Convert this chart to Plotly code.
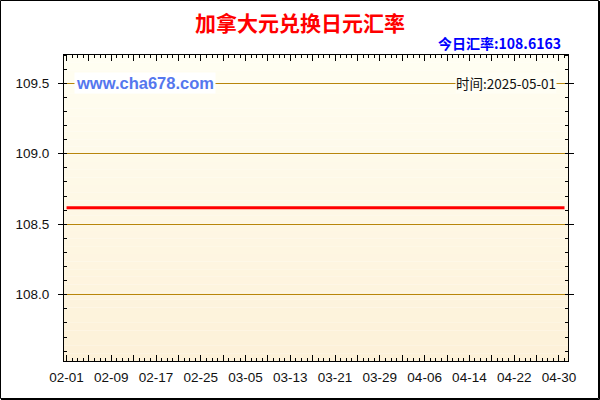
#!/usr/bin/env python
'''CAD to JPY exchange rate, last three months.'''

import pandas as pd
import plotly.graph_objects as go

# data: the rate is flat over the whole period
dates = ['2025-02-01', '2025-05-01']
rates = [108.6163, 108.6163]
today_rate = 108.6163
today = '2025-05-01'
tick_labels = ['02-01', '02-09', '02-17', '02-25', '03-05', '03-13',
               '03-21', '03-29', '04-06', '04-14', '04-22', '04-30']
y_ticks = [108.0, 108.5, 109.0, 109.5]

W, H = 600, 400
ML, MR, MT, MB = 64, 32, 55, 39
PW, PH = W - ML - MR, H - MT - MB

# major ticks every 4 days, a label on every other one
tickvals = pd.date_range('2025-02-01', '2025-04-30', freq='4D')
ticktext = [tick_labels[i // 2] if i % 2 == 0 else '' for i in range(len(tickvals))]

fig = go.Figure()
fig.add_trace(go.Scatter(
    x=dates, y=rates, mode='lines',
    line=dict(color='#FF0000', width=3),
    hoverinfo='skip', showlegend=False,
))

# pale yellow gradient behind the plot
shapes = []
n = 40
top, bottom = (255, 254, 242), (253, 241, 216)
for i in range(n):
    t = (i + 0.5) / n
    c = tuple(round(top[k] + (bottom[k] - top[k]) * t) for k in range(3))
    shapes.append(dict(
        type='rect', xref='paper', yref='paper', layer='below',
        x0=0, x1=1, y0=1 - (i + 1) / n, y1=1 - i / n,
        fillcolor='rgb(%d,%d,%d)' % c, line=dict(width=0),
    ))
# frame round the whole picture
shapes.append(dict(
    type='rect', xref='paper', yref='paper',
    x0=(0.5 - ML) / PW, x1=(W - 1.5 - ML) / PW,
    y0=-(H - 1.5 - MT - PH) / PH, y1=1 + (MT - 0.5) / PH,
    line=dict(color='black', width=1),
))
shapes.append(dict(
    type='line', xref='paper', yref='paper',
    x0=(W - 0.5 - ML) / PW, x1=(W - 0.5 - ML) / PW,
    y0=-(MB - 0.5) / PH, y1=1 + (MT - 1) / PH,
    line=dict(color='black', width=1),
))
shapes.append(dict(
    type='line', xref='paper', yref='paper',
    x0=(1 - ML) / PW, x1=(W - 0.5 - ML) / PW,
    y0=-(MB - 0.5) / PH, y1=-(MB - 0.5) / PH,
    line=dict(color='black', width=1),
))

fig.update_layout(
    width=W, height=H,
    margin=dict(l=ML, r=MR, t=MT, b=MB),
    paper_bgcolor='white', plot_bgcolor='rgba(0,0,0,0)',
    font=dict(family='Liberation Sans, Arial', size=13.5, color='#111'),
    shapes=shapes,
    title=dict(
        text='<b>加拿大元兑换日元汇率</b>',
        font=dict(family='Noto Sans CJK SC', size=21, color='#FF0000'),
        x=0.5, xanchor='center', y=1 - 24 / H, yanchor='middle',
    ),
    xaxis=dict(
        type='date',
        range=[pd.Timestamp('2025-02-01') - pd.Timedelta(hours=11),
               pd.Timestamp('2025-05-01') + pd.Timedelta(hours=15)],
        tickvals=tickvals, ticktext=ticktext,
        ticks='inside', ticklen=6, tickcolor='black',
        minor=dict(dtick=86400000, ticks='inside', ticklen=3, tickcolor='black'),
        showline=True, linecolor='black', linewidth=1, mirror='ticks',
        showgrid=False, zeroline=False, ticklabelstandoff=4,
    ),
    yaxis=dict(
        range=[107.53, 109.70],
        tickvals=y_ticks, tickformat='.1f',
        ticks='outside', ticklen=5, tickcolor='black',
        minor=dict(dtick=0.1, ticks='inside', ticklen=3, tickcolor='black'),
        showline=True, linecolor='black', linewidth=1, mirror='ticks',
        showgrid=True, gridcolor='#B8860B', gridwidth=1,
        zeroline=False, ticklabelstandoff=6,
    ),
    annotations=[
        dict(text='<b>今日汇率:%.4f</b>' % today_rate,
             xref='paper', yref='paper', x=(563 - ML) / PW, y=1 + 12 / PH,
             xanchor='right', yanchor='middle', showarrow=False,
             font=dict(family='Noto Sans CJK SC', size=14, color='#0000FF')),
        dict(text='<b>www.cha678.com</b>',
             xref='paper', yref='y', x=(74 - ML) / PW, y=109.5,
             xanchor='left', yanchor='middle', showarrow=False,
             bgcolor='white', borderpad=1,
             font=dict(family='Liberation Sans, Arial', size=16.5, color='#5577EE')),
        dict(text='时间:' + today,
             xref='paper', yref='y', x=(557 - ML) / PW, y=109.5,
             xanchor='right', yanchor='middle', showarrow=False,
             bgcolor='#FFFEF4', borderpad=0,
             font=dict(family='Noto Sans CJK SC', size=13.5, color='#111')),
    ],
)

fig.write_html('out.html', config={'displayModeBar': False},
               post_script="document.body.style.margin='0';")
